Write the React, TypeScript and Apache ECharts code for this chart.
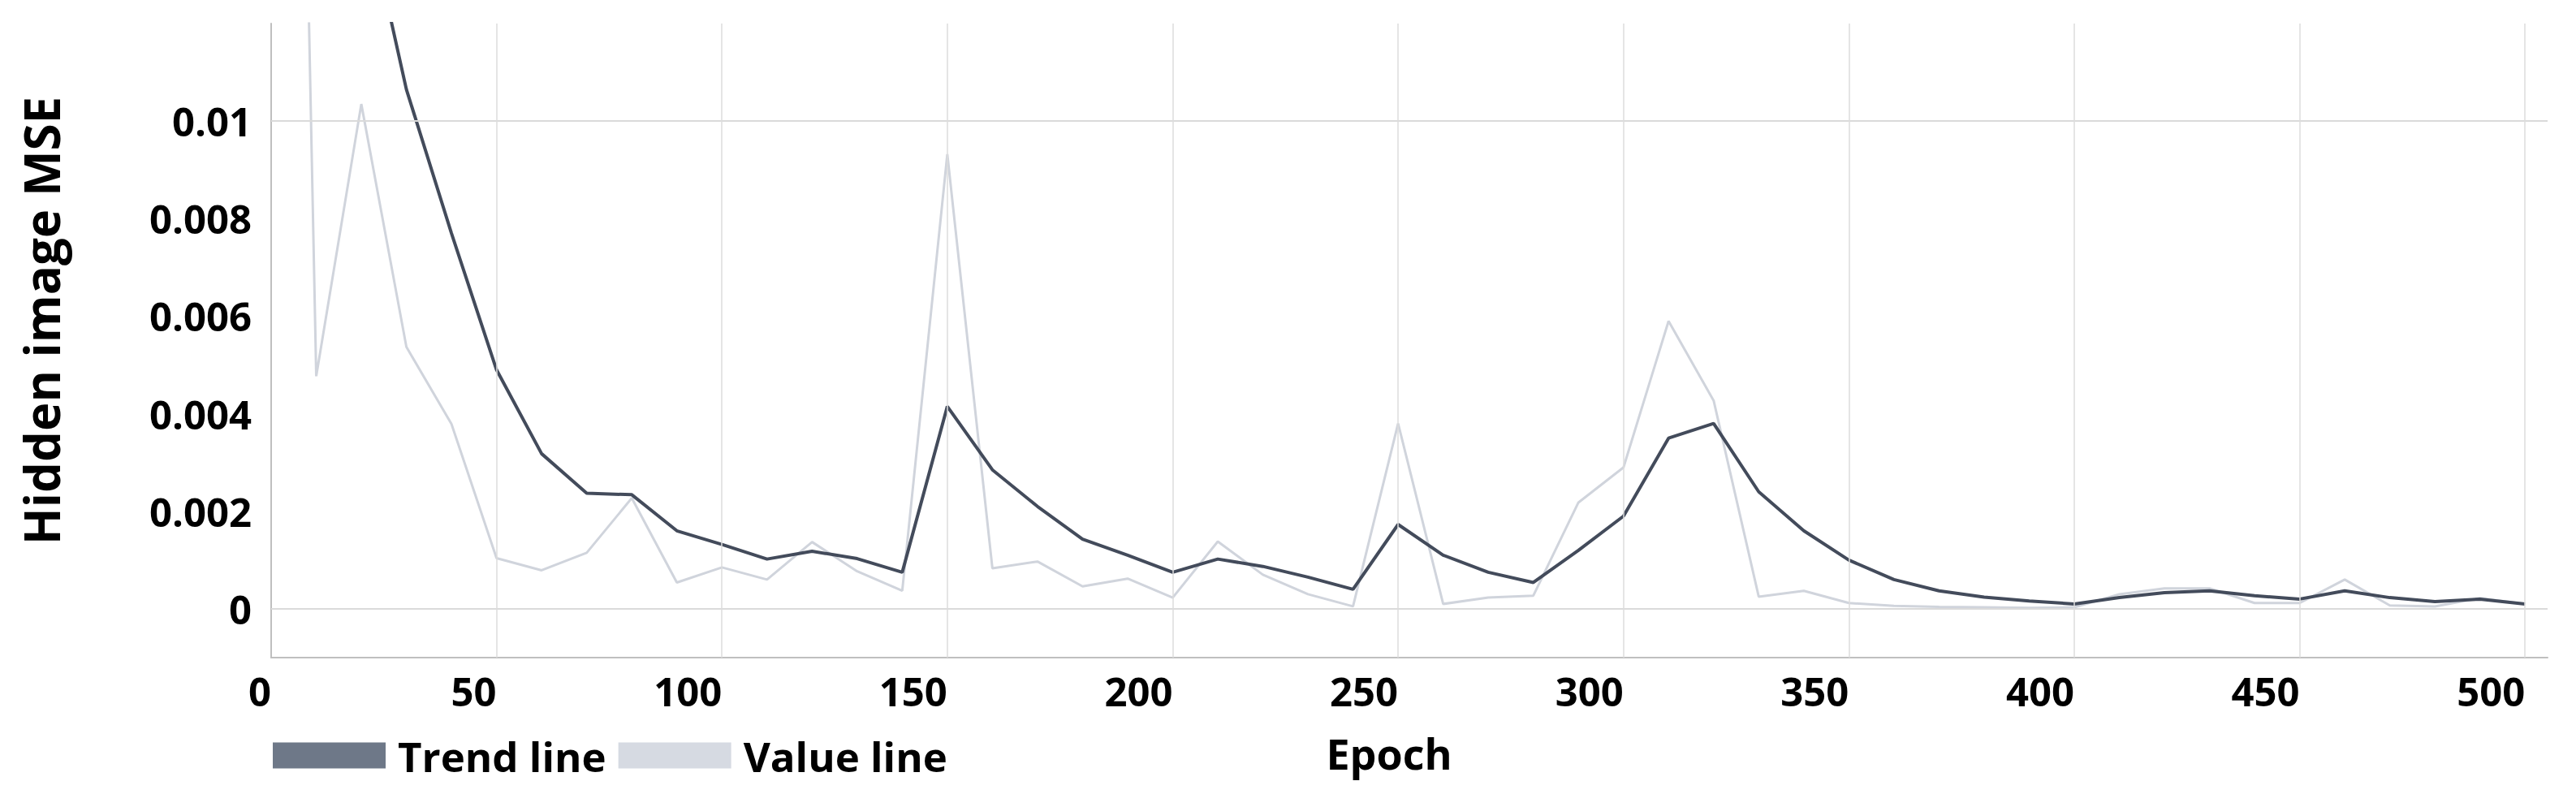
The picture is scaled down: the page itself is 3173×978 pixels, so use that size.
import React, { useEffect, useRef } from "react";
import * as echarts from "echarts";

const epochs = [
  0, 10, 20, 30, 40, 50, 60, 70, 80, 90,
  100, 110, 120, 130, 140, 150, 160, 170, 180, 190,
  200, 210, 220, 230, 240, 250, 260, 270, 280, 290,
  300, 310, 320, 330, 340, 350, 360, 370, 380, 390,
  400, 410, 420, 430, 440, 450, 460, 470, 480, 490, 500,
];

const trendLine = [
  0.05, 0.03, 0.0148, 0.01065, 0.0077, 0.0049, 0.00318, 0.00237, 0.00234, 0.0016,
  0.00132, 0.00102, 0.00118, 0.00103, 0.00075, 0.00415, 0.00285, 0.0021, 0.00143, 0.0011,
  0.00075, 0.00102, 0.00087, 0.00065, 0.0004, 0.00173, 0.0011, 0.00075, 0.00054, 0.0012,
  0.0019, 0.0035, 0.0038, 0.0024, 0.0016, 0.001, 0.0006, 0.00037, 0.00024, 0.00016,
  0.0001, 0.00023, 0.00033, 0.00037, 0.00027, 0.0002, 0.00037, 0.00023, 0.00015, 0.0002, 0.0001,
];

const valueLine = [
  0.05, 0.00477, 0.01035, 0.00537, 0.00379, 0.00104, 0.00079, 0.00115, 0.00227, 0.00054,
  0.00085, 0.0006, 0.00137, 0.00077, 0.00037, 0.00932, 0.00083, 0.00097, 0.00046, 0.00062,
  0.00023, 0.00138, 0.0007, 0.0003, 0.00005, 0.0038, 0.0001, 0.00023, 0.00027, 0.00218,
  0.0029, 0.0059, 0.00427, 0.00025, 0.00037, 0.00012, 0.00006, 0.00004, 0.00003, 0.00002,
  0.00003, 0.0003, 0.00042, 0.00042, 0.00012, 0.00012, 0.0006, 0.00007, 0.00005, 0.00022, 0.0001,
];

const yGridValues = [0, 0.002, 0.004, 0.006, 0.008, 0.01, 0.012];
const xGridValues = [50, 100, 150, 200, 250, 300, 350, 400, 450, 500];

const FONT = "'Open Sans', 'Noto Sans', 'DejaVu Sans', sans-serif";

export default function App() {
  const ref = useRef<HTMLDivElement>(null);

  useEffect(() => {
    if (!ref.current) return;
    const chart = echarts.init(ref.current, null, { renderer: "svg" });

    const trendData = epochs.map((e, i) => [e, trendLine[i]]);
    const valueData = epochs.map((e, i) => [e, valueLine[i]]);

    chart.setOption({
      animation: false,
      backgroundColor: "#ffffff",
      grid: { left: 334, right: 35, top: 29, bottom: 168, containLabel: false },
      xAxis: {
        type: "value",
        min: 0,
        max: 505,
        interval: 50,
        axisLine: { show: true, onZero: false, lineStyle: { color: "#bfbfbf", width: 2 } },
        axisTick: { show: false },
        splitLine: { show: false },
        axisLabel: {
          fontFamily: FONT,
          fontSize: 49,
          fontWeight: "bold",
          color: "#000000",
          align: "right",
          margin: 16,
          showMaxLabel: false,
          formatter: (v: number) => (v > 500 ? "" : String(v)),
        },
      },
      yAxis: {
        type: "value",
        min: -0.001,
        max: 0.012,
        interval: 0.001,
        axisLine: { show: true, onZero: false, lineStyle: { color: "#bfbfbf", width: 2 } },
        axisTick: { show: false },
        splitLine: { show: false },
        axisLabel: {
          fontFamily: FONT,
          fontSize: 49,
          fontWeight: "bold",
          color: "#000000",
          margin: 24,
          formatter: (v: number) => {
            const k = Math.round(v * 1000);
            return k >= 0 && k < 12 && k % 2 === 0 ? String(k / 1000) : "";
          },
        },
      },
      legend: {
        left: 331,
        top: 900,
        itemWidth: 139,
        itemHeight: 32,
        itemGap: 15,
        icon: "rect",
        selectedMode: false,
        textStyle: {
          fontFamily: FONT,
          fontSize: 51,
          fontWeight: "bold",
          color: "#000000",
          padding: [0, 0, 0, 10],
        },
        data: [
          { name: "Trend line", itemStyle: { color: "#6e7888" } },
          { name: "Value line", itemStyle: { color: "#d6dae2" } },
        ],
      },
      graphic: [
        {
          type: "text",
          x: 51,
          y: 395,
          rotation: Math.PI / 2,
          style: {
            text: "Hidden image MSE",
            font: `bold 60px ${FONT}`,
            fill: "#000000",
            align: "center",
            verticalAlign: "middle",
          },
        },
        {
          type: "text",
          x: 1711,
          y: 927,
          style: {
            text: "Epoch",
            font: `bold 52px ${FONT}`,
            fill: "#000000",
            align: "center",
            verticalAlign: "middle",
          },
        },
      ],
      series: [
        {
          type: "line",
          name: "__grid",
          data: [],
          silent: true,
          z: 1,
          markLine: {
            silent: true,
            symbol: ["none", "none"],
            label: { show: false },
            emphasis: { disabled: true },
            data: [
              ...yGridValues.map((v) => ({
                yAxis: v,
                lineStyle: { color: v === 0 ? "#bfbfbf" : "#dadada", width: 2, type: "solid" },
              })),
              ...xGridValues.map((v) => ({
                xAxis: v,
                lineStyle: { color: "#dcdcdc", width: 1.5, type: "solid" },
              })),
            ],
          },
        },
        {
          type: "line",
          name: "Value line",
          data: valueData,
          showSymbol: false,
          symbol: "none",
          z: 2,
          lineStyle: { color: "#d0d4dc", width: 3 },
          itemStyle: { color: "#d6dae2" },
        },
        {
          type: "line",
          name: "Trend line",
          data: trendData,
          showSymbol: false,
          symbol: "none",
          z: 3,
          lineStyle: { color: "#434b5b", width: 4 },
          itemStyle: { color: "#6e7888" },
        },
      ],
    });

    return () => chart.dispose();
  }, []);

  return (
    <div
      ref={ref}
      style={{ position: "absolute", left: 0, top: 0, width: 3173, height: 978 }}
    />
  );
}
